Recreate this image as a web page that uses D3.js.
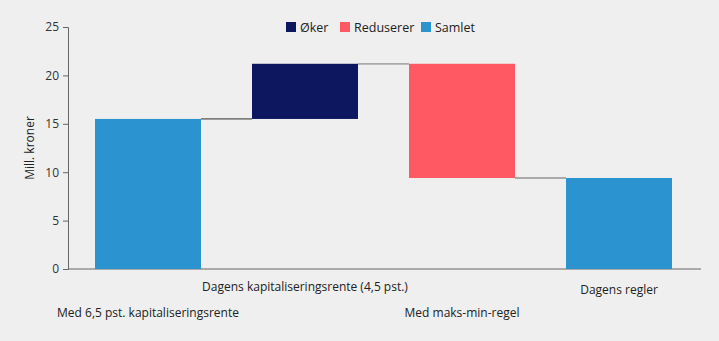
<!DOCTYPE html>
<html><head><meta charset="utf-8">
<script src="https://cdn.jsdelivr.net/npm/d3@7"></script>
<style>
html,body{margin:0;padding:0;background:#eeefee;}
text{font-family:"Open Sans",sans-serif;}
</style></head><body>
<svg id="c" width="719" height="341"></svg>
<script>
const categories = ["Med 6,5 pst. kapitaliseringsrente","Dagens kapitaliseringsrente (4,5 pst.)","Med maks-min-regel","Dagens regler"];
const barStart = [0, 15.5, 21.2, 0];
const barEnd = [15.5, 21.2, 9.4, 9.4];
const barType = ["Samlet","Øker","Reduserer","Samlet"];
const legendLabels = ["Øker","Reduserer","Samlet"];
const yTicks = [0,5,10,15,20,25];
const colors = {"Øker":"#0c1760","Reduserer":"#ff5a64","Samlet":"#2a93d0"};

const svg = d3.select("#c");
const m = {left:68, right:20, top:27, bottom:72};
const W = 719, H = 341;
const x = d3.scaleBand().domain(categories).range([m.left, 699]).paddingInner(0.325).paddingOuter(0.172);
const y = d3.scaleLinear().domain([0,25]).range([H - m.bottom, m.top]);

// axes
const ya = svg.append("g").attr("transform",`translate(${m.left},0)`)
  .call(d3.axisLeft(y).tickValues(yTicks).tickSize(5).tickPadding(4));
ya.select(".domain").attr("stroke","#666");
ya.selectAll(".tick line").attr("stroke","#666");
ya.selectAll(".tick text").attr("fill","#333").style("font-size","12px").style("font-family","Open Sans");

svg.append("line").attr("x1",m.left).attr("x2",W - m.right + 2).attr("y1",y(0)).attr("y2",y(0)).attr("stroke","#666");

svg.append("text").attr("transform",`translate(34,${(y(0)+y(25))/2}) rotate(-90)`)
  .attr("text-anchor","middle").attr("fill","#222").style("font-size","12px").text("Mill. kroner");

// connectors
for (let i=0;i<categories.length-1;i++){
  svg.append("line")
    .attr("x1", x(categories[i]) + x.bandwidth()).attr("x2", x(categories[i+1]))
    .attr("y1", y(barEnd[i])).attr("y2", y(barEnd[i]))
    .attr("stroke", i===0 ? "#808080" : "#aaaaaa").attr("stroke-width",1.8);
}

// bars
svg.selectAll("rect.bar").data(categories).join("rect").attr("class","bar")
  .attr("x", d => x(d)).attr("width", x.bandwidth())
  .attr("y", (d,i) => y(Math.max(barStart[i], barEnd[i])))
  .attr("height", (d,i) => Math.abs(y(barStart[i]) - y(barEnd[i])))
  .attr("fill", (d,i) => colors[barType[i]]);

// category labels, staggered
const labelY = [313, 287, 313, 290];
svg.selectAll("text.cat").data(categories).join("text").attr("class","cat")
  .attr("x", d => x(d) + x.bandwidth()/2).attr("y", (d,i) => labelY[i] + 4)
  .attr("text-anchor","middle").attr("fill","#222").style("font-size","12px").text(d => d);

// legend
const lx = [286, 340, 421];
const lg = svg.selectAll("g.leg").data(legendLabels).join("g").attr("class","leg")
  .attr("transform",(d,i)=>`translate(${lx[i]},22)`);
lg.append("rect").attr("width",10).attr("height",10).attr("fill", d => colors[d]);
lg.append("text").attr("x",14).attr("y",9.5).attr("fill","#222").style("font-size","12.5px").text(d => d);
</script>
</body></html>
